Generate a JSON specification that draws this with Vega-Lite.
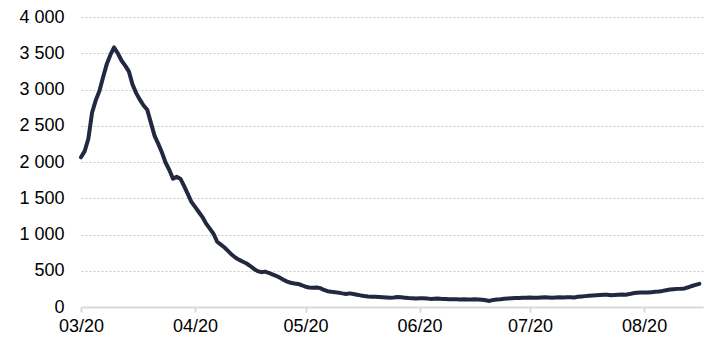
{
  "$schema": "https://vega.github.io/schema/vega-lite/v6.json",
  "width": 622,
  "height": 290,
  "autosize": {"type": "none"},
  "padding": {"left": 81, "top": 17, "right": 10, "bottom": 35},
  "background": "white",
  "config": {"view": {"stroke": null}, "font": "Liberation Sans"},
  "data": {"values": [
    {"date": "2020-03-01", "value": 2065},
    {"date": "2020-03-02", "value": 2150},
    {"date": "2020-03-03", "value": 2320},
    {"date": "2020-03-04", "value": 2680},
    {"date": "2020-03-05", "value": 2850},
    {"date": "2020-03-06", "value": 2980},
    {"date": "2020-03-07", "value": 3170},
    {"date": "2020-03-08", "value": 3350},
    {"date": "2020-03-09", "value": 3480},
    {"date": "2020-03-10", "value": 3580},
    {"date": "2020-03-11", "value": 3500},
    {"date": "2020-03-12", "value": 3400},
    {"date": "2020-03-13", "value": 3330},
    {"date": "2020-03-14", "value": 3250},
    {"date": "2020-03-15", "value": 3070},
    {"date": "2020-03-16", "value": 2950},
    {"date": "2020-03-17", "value": 2860},
    {"date": "2020-03-18", "value": 2780},
    {"date": "2020-03-19", "value": 2720},
    {"date": "2020-03-20", "value": 2540},
    {"date": "2020-03-21", "value": 2360},
    {"date": "2020-03-22", "value": 2250},
    {"date": "2020-03-23", "value": 2130},
    {"date": "2020-03-24", "value": 1990},
    {"date": "2020-03-25", "value": 1890},
    {"date": "2020-03-26", "value": 1770},
    {"date": "2020-03-27", "value": 1795},
    {"date": "2020-03-28", "value": 1770},
    {"date": "2020-03-29", "value": 1670},
    {"date": "2020-03-30", "value": 1560},
    {"date": "2020-03-31", "value": 1450},
    {"date": "2020-04-01", "value": 1380},
    {"date": "2020-04-02", "value": 1310},
    {"date": "2020-04-03", "value": 1240},
    {"date": "2020-04-04", "value": 1150},
    {"date": "2020-04-05", "value": 1080},
    {"date": "2020-04-06", "value": 1010},
    {"date": "2020-04-07", "value": 900},
    {"date": "2020-04-08", "value": 860},
    {"date": "2020-04-09", "value": 820},
    {"date": "2020-04-10", "value": 770},
    {"date": "2020-04-11", "value": 720},
    {"date": "2020-04-12", "value": 680},
    {"date": "2020-04-13", "value": 650},
    {"date": "2020-04-14", "value": 625},
    {"date": "2020-04-15", "value": 600},
    {"date": "2020-04-16", "value": 565},
    {"date": "2020-04-17", "value": 525},
    {"date": "2020-04-18", "value": 495},
    {"date": "2020-04-19", "value": 480},
    {"date": "2020-04-20", "value": 488},
    {"date": "2020-04-21", "value": 470},
    {"date": "2020-04-22", "value": 450},
    {"date": "2020-04-23", "value": 430},
    {"date": "2020-04-24", "value": 405},
    {"date": "2020-04-25", "value": 375},
    {"date": "2020-04-26", "value": 350},
    {"date": "2020-04-27", "value": 335},
    {"date": "2020-04-28", "value": 325},
    {"date": "2020-04-29", "value": 318},
    {"date": "2020-04-30", "value": 300},
    {"date": "2020-05-01", "value": 280},
    {"date": "2020-05-02", "value": 270},
    {"date": "2020-05-03", "value": 267},
    {"date": "2020-05-04", "value": 270},
    {"date": "2020-05-05", "value": 260},
    {"date": "2020-05-06", "value": 235},
    {"date": "2020-05-07", "value": 218},
    {"date": "2020-05-08", "value": 210},
    {"date": "2020-05-09", "value": 205},
    {"date": "2020-05-10", "value": 198},
    {"date": "2020-05-11", "value": 188},
    {"date": "2020-05-12", "value": 180},
    {"date": "2020-05-13", "value": 188},
    {"date": "2020-05-14", "value": 180},
    {"date": "2020-05-15", "value": 170},
    {"date": "2020-05-16", "value": 160},
    {"date": "2020-05-17", "value": 152},
    {"date": "2020-05-18", "value": 146},
    {"date": "2020-05-19", "value": 142},
    {"date": "2020-05-20", "value": 140},
    {"date": "2020-05-21", "value": 137},
    {"date": "2020-05-22", "value": 133},
    {"date": "2020-05-23", "value": 130},
    {"date": "2020-05-24", "value": 128},
    {"date": "2020-05-25", "value": 132},
    {"date": "2020-05-26", "value": 138},
    {"date": "2020-05-27", "value": 133},
    {"date": "2020-05-28", "value": 128},
    {"date": "2020-05-29", "value": 124},
    {"date": "2020-05-30", "value": 122},
    {"date": "2020-05-31", "value": 118},
    {"date": "2020-06-01", "value": 120},
    {"date": "2020-06-02", "value": 122},
    {"date": "2020-06-03", "value": 117},
    {"date": "2020-06-04", "value": 112},
    {"date": "2020-06-05", "value": 115},
    {"date": "2020-06-06", "value": 117},
    {"date": "2020-06-07", "value": 112},
    {"date": "2020-06-08", "value": 110},
    {"date": "2020-06-09", "value": 108},
    {"date": "2020-06-10", "value": 106},
    {"date": "2020-06-11", "value": 107},
    {"date": "2020-06-12", "value": 105},
    {"date": "2020-06-13", "value": 107},
    {"date": "2020-06-14", "value": 102},
    {"date": "2020-06-15", "value": 104},
    {"date": "2020-06-16", "value": 106},
    {"date": "2020-06-17", "value": 104},
    {"date": "2020-06-18", "value": 100},
    {"date": "2020-06-19", "value": 92},
    {"date": "2020-06-20", "value": 84},
    {"date": "2020-06-21", "value": 98},
    {"date": "2020-06-22", "value": 104},
    {"date": "2020-06-23", "value": 107},
    {"date": "2020-06-24", "value": 113},
    {"date": "2020-06-25", "value": 118},
    {"date": "2020-06-26", "value": 120},
    {"date": "2020-06-27", "value": 123},
    {"date": "2020-06-28", "value": 123},
    {"date": "2020-06-29", "value": 126},
    {"date": "2020-06-30", "value": 128},
    {"date": "2020-07-01", "value": 132},
    {"date": "2020-07-02", "value": 129},
    {"date": "2020-07-03", "value": 127},
    {"date": "2020-07-04", "value": 132},
    {"date": "2020-07-05", "value": 135},
    {"date": "2020-07-06", "value": 132},
    {"date": "2020-07-07", "value": 129},
    {"date": "2020-07-08", "value": 132},
    {"date": "2020-07-09", "value": 135},
    {"date": "2020-07-10", "value": 132},
    {"date": "2020-07-11", "value": 136},
    {"date": "2020-07-12", "value": 134},
    {"date": "2020-07-13", "value": 132},
    {"date": "2020-07-14", "value": 140},
    {"date": "2020-07-15", "value": 145},
    {"date": "2020-07-16", "value": 150},
    {"date": "2020-07-17", "value": 155},
    {"date": "2020-07-18", "value": 159},
    {"date": "2020-07-19", "value": 162},
    {"date": "2020-07-20", "value": 165},
    {"date": "2020-07-21", "value": 168},
    {"date": "2020-07-22", "value": 170},
    {"date": "2020-07-23", "value": 163},
    {"date": "2020-07-24", "value": 167},
    {"date": "2020-07-25", "value": 170},
    {"date": "2020-07-26", "value": 172},
    {"date": "2020-07-27", "value": 170},
    {"date": "2020-07-28", "value": 178},
    {"date": "2020-07-29", "value": 190},
    {"date": "2020-07-30", "value": 195},
    {"date": "2020-07-31", "value": 200},
    {"date": "2020-08-01", "value": 200},
    {"date": "2020-08-02", "value": 200},
    {"date": "2020-08-03", "value": 205},
    {"date": "2020-08-04", "value": 210},
    {"date": "2020-08-05", "value": 215},
    {"date": "2020-08-06", "value": 222},
    {"date": "2020-08-07", "value": 232},
    {"date": "2020-08-08", "value": 240},
    {"date": "2020-08-09", "value": 245},
    {"date": "2020-08-10", "value": 250},
    {"date": "2020-08-11", "value": 252},
    {"date": "2020-08-12", "value": 256},
    {"date": "2020-08-13", "value": 272},
    {"date": "2020-08-14", "value": 290},
    {"date": "2020-08-15", "value": 305},
    {"date": "2020-08-16", "value": 320}
  ]},
  "mark": {"type": "line", "color": "#212840", "strokeWidth": 4, "strokeJoin": "round", "strokeCap": "round"},
  "encoding": {
    "x": {
      "field": "date",
      "type": "temporal",
      "scale": {"type": "utc", "domain": [{"year": 2020, "month": 3, "date": 1, "utc": true}, {"year": 2020, "month": 8, "date": 17, "utc": true}]},
      "axis": {
        "title": null,
        "format": "%m/%y",
        "tickCount": {"interval": "month", "step": 1},
        "grid": false,
        "domainColor": "#d9d9d9",
        "domainWidth": 2,
        "tickColor": "#d9d9d9",
        "tickWidth": 2,
        "tickSize": 5,
        "labelPadding": 5,
        "labelFontSize": 18,
        "labelColor": "#000000",
        "labelFont": "Liberation Sans",
        "labelFlush": false,
        "labelOverlap": false
      }
    },
    "y": {
      "field": "value",
      "type": "quantitative",
      "scale": {"domain": [0, 4000], "nice": false},
      "axis": {
        "title": null,
        "values": [0, 500, 1000, 1500, 2000, 2500, 3000, 3500, 4000],
        "labelExpr": "replace(format(datum.value, ','), ',', ' ')",
        "domain": false,
        "ticks": false,
        "labelPadding": 17,
        "labelFontSize": 18,
        "labelColor": "#000000",
        "labelFont": "Liberation Sans",
        "gridColor": "#c8c8c8",
        "gridDash": [2, 2],
        "gridWidth": 1
      }
    }
  }
}
